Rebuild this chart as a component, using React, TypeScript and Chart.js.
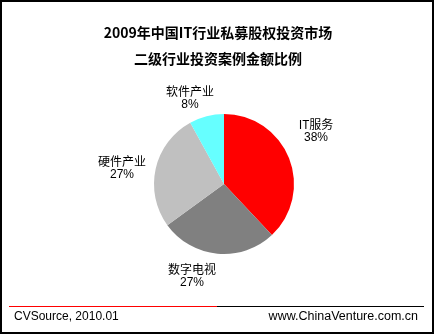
import React, { useEffect, useRef } from "react";
import { Chart, registerables } from "chart.js";
Chart.register(...registerables);

const categories = ["IT服务", "数字电视", "硬件产业", "软件产业"];
const values = [38, 27, 27, 8];
const pctLabels = ["38%", "27%", "27%", "8%"];
const colors = ["#FF0000", "#808080", "#C0C0C0", "#66FFFF"];
const titleLines = ["2009年中国IT行业私募股权投资市场", "二级行业投资案例金额比例"];
const footerLeft = "CVSource, 2010.01";
const footerRight = "www.ChinaVenture.com.cn";

const labelPos: Record<string, [number, number]> = {
  "IT服务": [316, 124],
  "数字电视": [192, 269],
  "硬件产业": [122, 161],
  "软件产业": [190, 91],
};

const decorPlugin = {
  id: "decor",
  beforeDraw(chart: any) {
    const ctx = chart.ctx;
    ctx.save();
    ctx.fillStyle = "#FFFFFF";
    ctx.fillRect(0, 0, chart.width, chart.height);
    ctx.restore();
  },
  afterDraw(chart: any) {
    const ctx = chart.ctx;
    ctx.save();
    ctx.strokeStyle = "#000000";
    ctx.lineWidth = 2;
    ctx.strokeRect(1, 1, 432, 332);
    ctx.fillStyle = "#000000";
    ctx.textAlign = "center";
    ctx.textBaseline = "middle";
    ctx.font = "bold 14px 'Noto Sans CJK SC'";
    ctx.fillText(titleLines[0], 218, 33);
    ctx.fillText(titleLines[1], 218, 59);
    categories.forEach((c, i) => {
      const [x, y] = labelPos[c];
      ctx.font = "12px 'Noto Sans CJK SC'";
      ctx.fillText(c, x, y);
      ctx.font = "12px 'Liberation Sans'";
      ctx.fillText(pctLabels[i], x, y + 14);
    });
    ctx.lineWidth = 1;
    ctx.strokeStyle = "#000000";
    ctx.beginPath();
    ctx.moveTo(217, 306.5);
    ctx.lineTo(424, 306.5);
    ctx.stroke();
    ctx.strokeStyle = "#FF0000";
    ctx.beginPath();
    ctx.moveTo(9, 306.5);
    ctx.lineTo(217, 306.5);
    ctx.stroke();
    ctx.fillStyle = "#000000";
    ctx.textAlign = "left";
    ctx.font = "12px 'Liberation Sans'";
    ctx.fillText(footerLeft, 14, 317);
    ctx.textAlign = "right";
    ctx.font = "12.5px 'Liberation Sans'";
    ctx.fillText(footerRight, 418, 317);
    ctx.restore();
  },
};

export default function App() {
  const ref = useRef<HTMLCanvasElement>(null);
  useEffect(() => {
    if (!ref.current) return;
    const chart = new Chart(ref.current, {
      type: "pie",
      data: {
        labels: categories,
        datasets: [
          {
            data: values,
            backgroundColor: colors,
            borderWidth: 0,
          },
        ],
      },
      options: {
        animation: false,
        responsive: false,
        devicePixelRatio: 1,
        layout: { padding: { left: 154, right: 141, top: 114, bottom: 81 } },
        plugins: { legend: { display: false }, tooltip: { enabled: false } },
      },
      plugins: [decorPlugin],
    });
    return () => chart.destroy();
  }, []);
  return (
    <div style={{ position: "absolute", left: 0, top: 0, width: 435, height: 335 }}>
      <canvas ref={ref} width={435} height={335} style={{ width: 435, height: 335 }} />
    </div>
  );
}
